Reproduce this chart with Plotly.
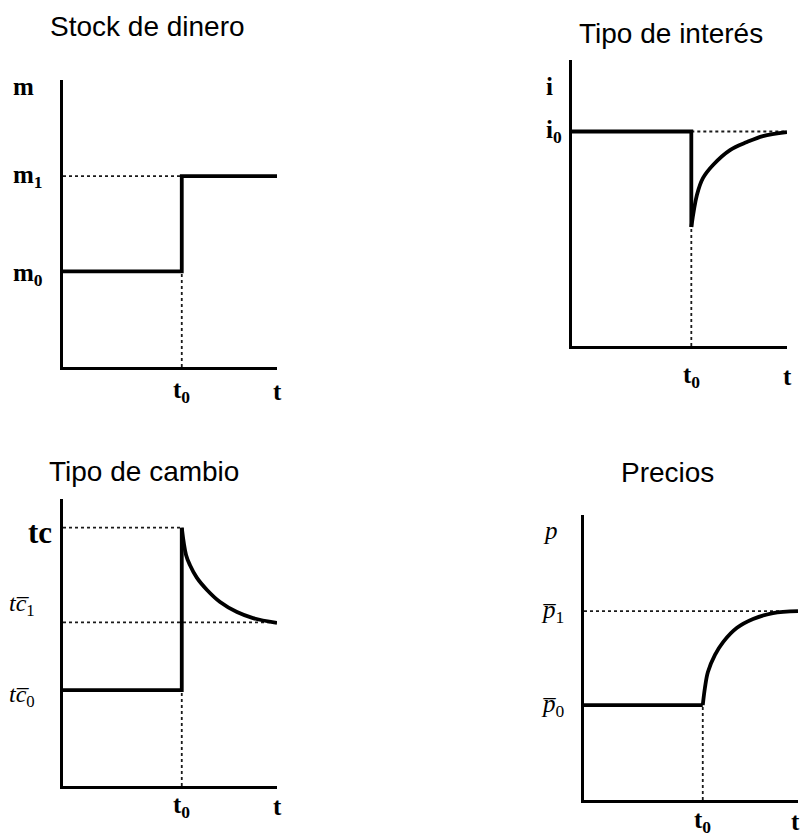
import plotly.graph_objects as go

# Shock date on the normalised time axis (0 .. 1)
T0 = 0.555

# Money stock
M0 = 0.333
M1 = 0.665

# Interest rate: initial level, trough after the shock and the adjustment path
I0 = 0.75
I_MIN = 0.416
i_adj_t = [0.555, 0.581, 0.609, 0.656, 0.735, 0.814, 0.888, 1.0]
i_adj_v = [0.416, 0.528, 0.587, 0.633, 0.685, 0.713, 0.734, 0.748]

# Exchange rate: initial, overshooting peak and new long-run level
TC0 = 0.334
TC_PEAK = 0.90
TC1 = 0.57
tc_adj_t = [0.555, 0.575, 0.593, 0.626, 0.673, 0.734, 0.813, 0.888, 1.0]
tc_adj_v = [0.90, 0.805, 0.770, 0.725, 0.683, 0.641, 0.606, 0.585, 0.568]

# Prices: initial and final levels with the gradual adjustment path
P0 = 0.333
P1 = 0.663
p_adj_t = [0.555, 0.565, 0.579, 0.612, 0.650, 0.715, 0.790, 0.883, 1.0]
p_adj_v = [0.333, 0.393, 0.449, 0.509, 0.554, 0.604, 0.635, 0.656, 0.663]

SERIF = "Liberation Serif"
SANS = "Liberation Sans"
MAIN = dict(color="black", width=3.8)
GUIDE = dict(color="#1a1a1a", width=1.8, dash="dot")

fig = go.Figure()


def line(ax, xs, ys, style, spline=False):
    n = "" if ax == 1 else str(ax)
    st = dict(style)
    if spline:
        st.update(shape="spline", smoothing=1.0)
    fig.add_trace(go.Scatter(x=xs, y=ys, mode="lines", line=st,
                             xaxis="x" + n, yaxis="y" + n,
                             hoverinfo="skip", showlegend=False))


# Panel 1: money stock
line(1, [0, T0], [M1, M1], GUIDE)
line(1, [T0, T0], [0, M0], GUIDE)
line(1, [0, T0, T0, 1], [M0, M0, M1, M1], MAIN)

# Panel 2: interest rate
line(2, [T0, 1], [I0, I0], GUIDE)
line(2, [T0, T0], [0, I_MIN], GUIDE)
line(2, [0, T0, T0], [I0, I0, I_MIN], MAIN)
line(2, i_adj_t, i_adj_v, MAIN, spline=True)

# Panel 3: exchange rate
line(3, [0, T0], [TC_PEAK, TC_PEAK], GUIDE)
line(3, [0, 1], [TC1, TC1], GUIDE)
line(3, [T0, T0], [0, TC0], GUIDE)
line(3, [0, T0, T0], [TC0, TC0, TC_PEAK], MAIN)
line(3, tc_adj_t, tc_adj_v, MAIN, spline=True)

# Panel 4: prices
line(4, [0, 1], [P1, P1], GUIDE)
line(4, [T0, T0], [0, P0], GUIDE)
line(4, [0, T0], [P0, P0], MAIN)
line(4, p_adj_t, p_adj_v, MAIN, spline=True)

W, H = 804, 837
# plot boxes in pixels: (left, right, top, bottom)
boxes = {
    1: (63, 277, 80, 367),
    2: (572, 787, 60, 346),
    3: (63, 277, 499, 786),
    4: (584, 798, 515, 800),
}

axis_style = dict(range=[0, 1], showgrid=False, zeroline=False,
                  showticklabels=False, ticks="", showline=True,
                  linecolor="black", linewidth=2.5, fixedrange=True)

layout_axes = {}
for k, (l, r, t, b) in boxes.items():
    n = "" if k == 1 else str(k)
    layout_axes["xaxis" + n] = dict(axis_style, domain=[l / W, r / W],
                                    anchor="y" + n)
    layout_axes["yaxis" + n] = dict(axis_style, domain=[1 - b / H, 1 - t / H],
                                    anchor="x" + n)

ann = []


def label(ax, text, x, y, xmode, ymode, size=25, anchor="left", yshift=0,
          xshift=0):
    n = "" if ax == 1 else str(ax)
    ann.append(dict(
        text=text, x=x, y=y, showarrow=False,
        xref=("x" + n) if xmode == "data" else ("x" + n + " domain"),
        yref=("y" + n) if ymode == "data" else ("y" + n + " domain"),
        xanchor=anchor, yanchor="middle", yshift=yshift, xshift=xshift,
        font=dict(family=SERIF, size=size, color="black")))


# Panel titles
titles = [("Stock de dinero", 147.5, 27), ("Tipo de interés", 671, 34),
          ("Tipo de cambio", 144, 471), ("Precios", 667.5, 472)]
for txt, px, py in titles:
    ann.append(dict(text=txt, x=px / W, y=1 - py / H, xref="paper",
                    yref="paper", showarrow=False, xanchor="center",
                    yanchor="middle",
                    font=dict(family=SANS, size=28, color="black")))

# Panel 1 labels
label(1, "<b>m</b>", -0.245, 0.979, "dom", "dom")
label(1, "<b>m<sub>1</sub></b>", -0.245, M1, "dom", "data")
label(1, "<b>m<sub>0</sub></b>", -0.245, M0, "dom", "data", yshift=-3)
label(1, "<b>t<sub>0</sub></b>", T0, -0.087, "data", "dom", anchor="center")
label(1, "<b>t</b>", 1.0, -0.087, "data", "dom", anchor="center")

# Panel 2 labels
label(2, "<b>i</b>", -0.13, 0.906, "dom", "dom")
label(2, "<b>i<sub>0</sub></b>", -0.13, I0, "dom", "data")
label(2, "<b>t<sub>0</sub></b>", T0, -0.108, "data", "dom", anchor="center")
label(2, "<b>t</b>", 1.0, -0.108, "data", "dom", anchor="center")

# Panel 3 labels
label(3, "<b>tc</b>", -0.175, TC_PEAK, "dom", "data", size=31, yshift=-5)
label(3, "<i>tc\u0305</i><sub>1</sub>", -0.262, 0.631, "dom", "dom", size=24)
label(3, "<i>tc\u0305</i><sub>0</sub>", -0.262, TC0, "dom", "data", size=24,
      yshift=-6)
label(3, "<b>t<sub>0</sub></b>", T0, -0.07, "data", "dom", anchor="center")
label(3, "<b>t</b>", 1.0, -0.07, "data", "dom", anchor="center")

# Panel 4 labels
label(4, "<i>p</i>", -0.2, 0.947, "dom", "dom")
label(4, "<i>p\u0305</i><sub>1</sub>", -0.21, P1, "dom", "data")
label(4, "<i>p\u0305</i><sub>0</sub>", -0.21, P0, "dom", "data")
label(4, "<b>t<sub>0</sub></b>", T0, -0.074, "data", "dom", anchor="center")
label(4, "<b>t</b>", 1.0, -0.074, "data", "dom", anchor="center", xshift=-3)

fig.update_layout(
    width=W, height=H,
    margin=dict(l=0, r=0, t=0, b=0),
    paper_bgcolor="white", plot_bgcolor="white",
    showlegend=False,
    annotations=ann,
    **layout_axes,
)

fig.write_html("out.html", config={"displayModeBar": False})
